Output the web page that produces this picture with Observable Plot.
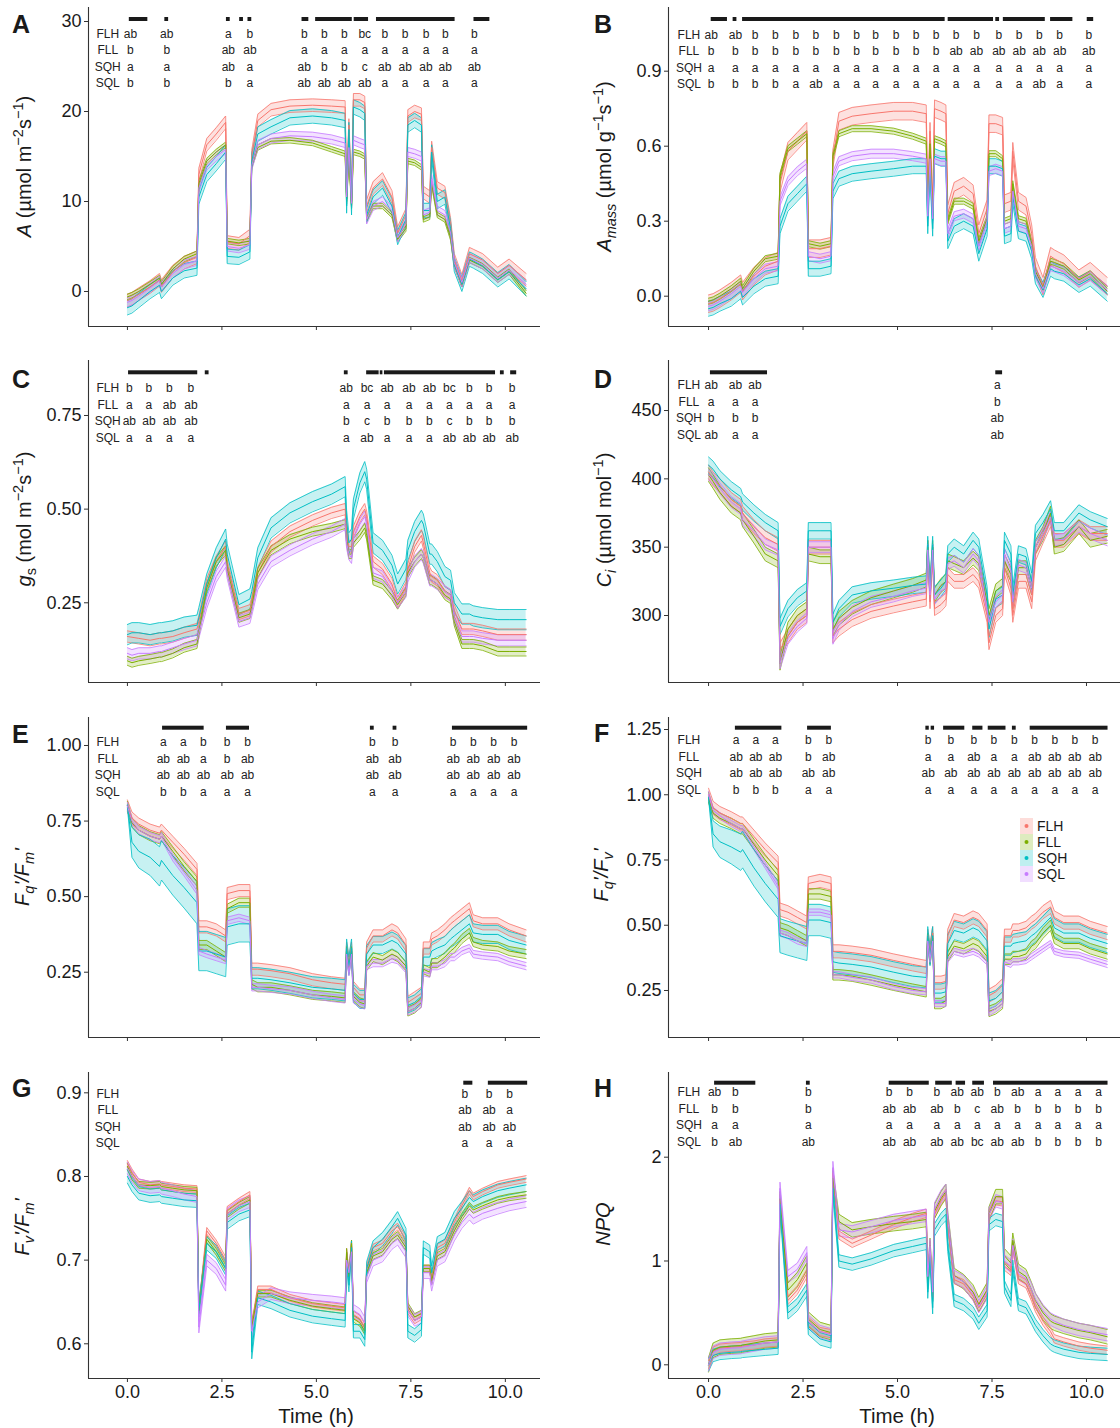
<!DOCTYPE html>
<html>
<head>
<meta charset="utf-8">
<script src="https://cdn.jsdelivr.net/npm/d3@7"></script>
<script src="https://cdn.jsdelivr.net/npm/@observablehq/plot@0.6"></script>
<style>
  html, body { margin: 0; padding: 0; background: #fff; }
  #root { position: relative; width: 1120px; height: 1428px; overflow: hidden; background: #fff; }
  .panel { position: absolute; width: 560px; }
  .panel svg { display: block; }
  #overlay { position: absolute; left: 0; top: 0; pointer-events: none; }
</style>
</head>
<body>
<div id="root"></div>
<script>
// ---------- shared time base (hours) ----------
const T = [0,0.12,0.3,0.6,0.85,0.9,1.2,1.5,1.84, 1.89,2.1,2.35,2.6, 2.64,2.95,3.24,
  3.29,3.45,3.8,4.3,4.9,5.4,5.76, 5.80,5.86,5.93,5.98,6.15,6.28, 6.33,6.5,6.75,7.0,7.15,7.37,
  7.42,7.6,7.78, 7.83,8.0,8.05,8.2,8.4,8.55, 8.65,8.85,9.05,9.15,9.4,9.8,10.1,10.55];

const series = ["FLH","FLL","SQH","SQL"];
const colors = ["#F8766D","#7CAE00","#00BFC4","#C77CFF"];
const xTicks = [0, 2.5, 5, 7.5, 10];

// ---------- Panel A: A ----------
const A_FLH = [-1.0,-0.8,-0.3,0.5,1.3,0.6,2.2,3.2,3.8, 13.0,16.3,17.5,18.8, 5.5,5.3,6.2, 15.0,19.0,20.2,20.6,20.7,20.6,20.5, 11.0,18.5,10.0,21.3,21.3,21.0, 9.5,11.5,12.5,10.5,6.5,8.5, 19.5,20.0,19.7, 11.0,10.5,16.0,11.5,11.0,7.5, 3.5,1.2,4.2,4.0,3.5,2.0,2.9,1.3];
const A_FLL = [-0.6,-0.4,0.0,0.8,1.5,0.8,2.5,3.6,4.2, 12.0,14.5,15.5,16.3, 5.6,5.4,5.6, 14.0,16.0,16.7,16.8,16.5,15.8,15.3, 10.0,15.0,9.5,15.5,15.3,15.0, 8.0,9.5,9.5,8.5,5.8,7.0, 14.5,14.3,13.8, 8.0,8.3,12.0,8.5,8.0,6.0, 3.0,0.8,3.5,3.3,2.8,1.3,2.2,-0.2];
const A_SQH = [-1.8,-1.6,-1.0,0.0,0.7,0.0,1.5,2.3,2.6, 10.5,13.0,14.2,15.5, 3.9,3.8,4.4, 14.5,17.5,18.3,19.3,19.5,19.3,19.0, 9.5,18.0,9.3,20.5,20.2,19.8, 8.5,10.5,11.5,9.5,6.0,8.0, 18.5,19.0,18.5, 9.0,9.0,15.5,10.0,10.5,7.0, 3.0,0.8,3.6,3.4,2.8,1.3,2.2,0.3];
const A_SQL = [-1.2,-1.0,-0.5,0.4,1.2,0.5,2.0,3.0,3.4, 11.5,14.0,15.0,15.8, 5.0,4.8,5.2, 14.0,16.3,17.0,17.3,17.2,16.9,16.5, 10.5,16.0,9.8,16.8,16.5,16.3, 8.0,9.5,10.0,9.0,6.0,7.5, 15.5,15.3,15.0, 8.5,8.8,12.5,9.0,8.5,6.5, 3.2,1.0,3.7,3.5,3.0,1.5,2.4,0.8];
const A_se = [0.7, 0.3, 0.8, 0.5];
const A_cols = [0.08,1.04,2.67,3.24,4.68,5.21,5.74,6.28,6.81,7.35,7.90,8.41,9.18];
const A_letters = [
  ["ab","ab","a","b","b","b","b","bc","b","b","b","b","b"],
  ["b","b","ab","ab","a","a","a","a","a","a","a","a","a"],
  ["a","a","ab","a","ab","b","b","c","ab","ab","ab","ab","ab"],
  ["b","b","b","a","ab","ab","ab","ab","a","a","a","a","a"]];
const A_stars = [[0.05,0.54],[0.99,1.09],[2.62,2.72],[2.97,3.07],[3.19,3.29],[4.62,4.8],[4.98,5.95],[6.0,6.38],[6.59,8.67],[9.17,9.59]];

// ---------- Panel B: A mass ----------
const B_FLH = [-0.03,-0.025,-0.01,0.02,0.05,0.02,0.08,0.12,0.14, 0.45,0.58,0.62,0.66, 0.19,0.19,0.20, 0.55,0.70,0.72,0.73,0.74,0.74,0.73, 0.35,0.66,0.34,0.75,0.74,0.73, 0.33,0.42,0.44,0.41,0.25,0.35, 0.69,0.69,0.68, 0.37,0.38,0.58,0.38,0.36,0.25, 0.12,0.04,0.16,0.15,0.13,0.07,0.10,0.04];
const B_FLL = [-0.02,-0.015,0.0,0.03,0.06,0.03,0.10,0.15,0.16, 0.48,0.59,0.62,0.65, 0.21,0.20,0.21, 0.56,0.65,0.67,0.67,0.66,0.64,0.62, 0.33,0.61,0.32,0.63,0.62,0.61, 0.30,0.38,0.38,0.36,0.22,0.31, 0.57,0.57,0.55, 0.30,0.31,0.45,0.31,0.30,0.21, 0.10,0.035,0.14,0.135,0.12,0.065,0.09,0.02];
const B_SQH = [-0.05,-0.045,-0.03,-0.01,0.02,-0.005,0.04,0.07,0.08, 0.28,0.37,0.41,0.45, 0.11,0.11,0.12, 0.42,0.47,0.49,0.50,0.51,0.52,0.52, 0.28,0.52,0.27,0.56,0.55,0.55, 0.22,0.28,0.30,0.28,0.17,0.27, 0.52,0.52,0.51, 0.24,0.25,0.40,0.26,0.25,0.18, 0.08,0.025,0.11,0.10,0.09,0.045,0.07,0.01];
const B_SQL = [-0.04,-0.035,-0.02,0.01,0.04,0.015,0.07,0.11,0.12, 0.38,0.46,0.50,0.53, 0.16,0.15,0.16, 0.48,0.54,0.56,0.57,0.57,0.56,0.55, 0.32,0.55,0.31,0.55,0.54,0.54, 0.25,0.32,0.33,0.31,0.20,0.30, 0.50,0.51,0.50, 0.27,0.28,0.42,0.28,0.27,0.20, 0.09,0.03,0.12,0.115,0.10,0.055,0.08,0.025];
const B_se = [0.035, 0.012, 0.03, 0.018];
const B_cols = [0.07,0.71,1.23,1.77,2.31,2.84,3.38,3.92,4.42,4.96,5.49,6.02,6.55,7.09,7.68,8.22,8.75,9.29,10.06];
const B_letters = [
  ["ab","ab","b","b","b","b","b","b","b","b","b","b","b","b","b","b","b","b","b"],
  ["b","b","b","b","b","b","b","b","b","b","b","b","ab","ab","ab","ab","ab","ab","ab"],
  ["a","a","a","a","a","a","a","a","a","a","a","a","a","a","a","a","a","a","a"],
  ["b","b","b","b","a","ab","a","a","a","a","a","a","a","a","a","a","ab","a","a"]];
const B_stars = [[0.07,0.5],[0.65,0.75],[0.9,6.26],[6.34,7.54],[7.6,7.7],[7.8,8.91],[9.05,9.64],[10.02,10.19]];

// ---------- Panel C: gs ----------
const C_FLH = [0.16,0.158,0.155,0.15,0.155,0.155,0.16,0.17,0.18, 0.20,0.30,0.36,0.40, 0.35,0.22,0.23, 0.25,0.33,0.40,0.44,0.47,0.49,0.50, 0.45,0.40,0.40,0.44,0.48,0.50, 0.48,0.36,0.34,0.30,0.25,0.29, 0.34,0.40,0.43, 0.41,0.33,0.32,0.31,0.28,0.27, 0.23,0.18,0.18,0.18,0.175,0.165,0.165,0.165];
const C_FLL = [0.095,0.09,0.095,0.10,0.105,0.105,0.115,0.13,0.14, 0.17,0.29,0.36,0.39, 0.34,0.21,0.22, 0.24,0.33,0.39,0.42,0.44,0.45,0.46, 0.42,0.38,0.38,0.41,0.43,0.45, 0.43,0.31,0.30,0.27,0.245,0.28, 0.33,0.36,0.38, 0.37,0.31,0.31,0.30,0.27,0.26, 0.20,0.14,0.14,0.14,0.135,0.12,0.12,0.12];
const C_SQH = [0.165,0.17,0.17,0.165,0.17,0.17,0.175,0.185,0.19, 0.21,0.30,0.37,0.42, 0.38,0.245,0.26, 0.28,0.37,0.45,0.49,0.52,0.54,0.56, 0.47,0.41,0.42,0.50,0.57,0.60, 0.58,0.41,0.39,0.35,0.30,0.34, 0.39,0.44,0.47, 0.46,0.38,0.38,0.36,0.32,0.31, 0.25,0.22,0.22,0.215,0.21,0.205,0.205,0.205];
const C_SQL = [0.115,0.11,0.115,0.115,0.12,0.12,0.13,0.14,0.15, 0.17,0.25,0.32,0.36, 0.33,0.20,0.21, 0.23,0.30,0.36,0.39,0.42,0.44,0.46, 0.41,0.38,0.37,0.42,0.46,0.48, 0.46,0.33,0.32,0.28,0.25,0.28, 0.32,0.36,0.38, 0.37,0.31,0.31,0.30,0.28,0.27, 0.21,0.16,0.16,0.16,0.155,0.15,0.15,0.15];
const C_se = [0.015, 0.012, 0.027, 0.015];
const C_cols = [0.05,0.57,1.11,1.68,5.79,6.34,6.87,7.45,7.99,8.52,9.05,9.57,10.18];
const C_letters = [
  ["b","b","b","b","ab","bc","ab","ab","ab","bc","b","b","b"],
  ["a","a","ab","ab","a","a","a","a","a","a","a","a","a"],
  ["ab","ab","ab","ab","b","c","b","b","b","c","b","b","b"],
  ["a","a","a","a","a","ab","a","a","a","ab","ab","ab","ab"]];
const C_stars = [[0.03,1.86],[2.06,2.16],[5.74,5.84],[6.33,6.66],[6.69,6.76],[6.8,9.74],[9.87,9.97],[10.14,10.3]];

// ---------- Panel D: Ci ----------
const D_FLH = [405,400,395,385,380,375,365,357,352, 275,285,295,300, 350,350,350, 285,290,297,303,307,310,312, 350,310,345,305,308,312, 330,325,325,330,325,300, 280,300,305, 335,320,300,325,325,310, 345,358,370,355,355,365,360,360];
const D_FLL = [403,398,390,380,375,370,358,345,340, 265,290,300,305, 345,343,343, 290,298,306,313,318,322,326, 350,318,350,315,322,325, 340,338,335,342,338,310, 300,318,322, 340,330,310,335,335,320, 350,360,375,350,352,365,355,358];
const D_SQH = [410,407,400,392,387,383,375,368,362, 292,305,313,318, 362,362,362, 295,305,315,318,320,322,323, 352,318,352,315,320,325, 345,350,345,355,350,315, 290,312,315, 355,345,315,345,343,325, 360,368,378,362,362,375,370,365];
const D_SQL = [403,400,393,383,378,370,362,352,348, 265,283,292,298, 350,350,350, 283,293,303,310,314,318,320, 348,315,348,312,318,320, 338,340,335,345,340,305, 295,310,315, 345,333,310,337,335,320, 350,360,372,355,356,365,360,355];
const D_se = [5, 5, 6, 4];
const D_cols = [0.07,0.71,1.23,7.64];
const D_letters = [
  ["ab","ab","ab","a"],
  ["a","a","a","b"],
  ["b","b","b","ab"],
  ["ab","a","a","ab"]];
const D_stars = [[0.05,1.56],[7.6,7.78]];

// ---------- Panel E: Fq'/Fm' ----------
const E_FLH = [0.80,0.76,0.74,0.72,0.71,0.72,0.68,0.64,0.59, 0.40,0.40,0.39,0.37, 0.51,0.52,0.52, 0.26,0.26,0.255,0.245,0.225,0.215,0.21, 0.33,0.28,0.33,0.20,0.175,0.175, 0.33,0.37,0.37,0.39,0.38,0.34, 0.15,0.165,0.18, 0.33,0.33,0.36,0.37,0.39,0.41, 0.42,0.44,0.46,0.42,0.41,0.41,0.39,0.37];
const E_FLL = [0.80,0.745,0.72,0.70,0.69,0.70,0.65,0.60,0.55, 0.34,0.34,0.32,0.30, 0.46,0.48,0.48, 0.21,0.20,0.20,0.19,0.175,0.17,0.165, 0.32,0.26,0.32,0.17,0.15,0.145, 0.27,0.30,0.29,0.31,0.30,0.27, 0.12,0.13,0.15, 0.26,0.25,0.28,0.28,0.30,0.32, 0.33,0.36,0.38,0.35,0.34,0.335,0.32,0.31];
const E_SQH = [0.80,0.68,0.65,0.63,0.60,0.62,0.57,0.53,0.48, 0.32,0.32,0.31,0.30, 0.40,0.41,0.41, 0.23,0.23,0.225,0.215,0.20,0.195,0.19, 0.33,0.27,0.33,0.18,0.16,0.16, 0.31,0.34,0.34,0.355,0.345,0.31, 0.14,0.15,0.17, 0.30,0.30,0.32,0.33,0.34,0.36, 0.37,0.39,0.41,0.38,0.375,0.375,0.355,0.34];
const E_SQL = [0.80,0.75,0.72,0.70,0.69,0.70,0.63,0.58,0.52, 0.32,0.31,0.30,0.29, 0.42,0.43,0.42, 0.20,0.20,0.195,0.19,0.175,0.165,0.16, 0.31,0.25,0.31,0.16,0.145,0.14, 0.27,0.28,0.28,0.295,0.29,0.26, 0.12,0.13,0.145, 0.25,0.245,0.27,0.27,0.28,0.30, 0.30,0.32,0.33,0.31,0.305,0.30,0.285,0.27];
const E_SQH_se = [0.005,0.05,0.055,0.06,0.065,0.065,0.065,0.068,0.07, 0.065,0.065,0.065,0.065, 0.06,0.06,0.06, 0.035,0.035,0.035,0.035,0.035,0.035,0.035, 0.03,0.03,0.03,0.03,0.03,0.03, 0.028,0.028,0.028,0.028,0.028,0.028, 0.025,0.025,0.025, 0.028,0.028,0.028,0.028,0.028,0.028, 0.03,0.03,0.03,0.03,0.03,0.03,0.03,0.03];
const E_se = [0.02, 0.015, E_SQH_se, 0.012];
const E_cols = [0.95,1.48,2.01,2.64,3.18,6.48,7.08,8.62,9.15,9.69,10.23];
const E_letters = [
  ["a","a","b","b","b","b","b","b","b","b","b"],
  ["ab","ab","a","b","ab","ab","ab","ab","ab","ab","ab"],
  ["ab","ab","ab","ab","ab","ab","ab","ab","ab","ab","ab"],
  ["b","b","a","a","a","a","a","a","a","a","a"]];
const E_stars = [[0.93,2.03],[2.62,3.23],[6.43,6.53],[7.03,7.13],[8.6,10.59]];

// ---------- Panel F: Fq'/Fv' ----------
const F_FLH = [1.0,0.95,0.93,0.91,0.89,0.89,0.84,0.79,0.74, 0.56,0.55,0.53,0.51, 0.66,0.67,0.66, 0.40,0.40,0.395,0.385,0.365,0.35,0.34, 0.46,0.40,0.47,0.28,0.28,0.285, 0.46,0.52,0.51,0.53,0.52,0.48, 0.23,0.245,0.27, 0.46,0.46,0.48,0.48,0.49,0.51, 0.52,0.55,0.57,0.53,0.51,0.51,0.49,0.47];
const F_FLL = [0.99,0.93,0.91,0.89,0.87,0.87,0.81,0.75,0.69, 0.49,0.48,0.46,0.44, 0.62,0.62,0.61, 0.31,0.31,0.305,0.29,0.27,0.255,0.245, 0.45,0.37,0.45,0.20,0.20,0.21, 0.38,0.42,0.41,0.43,0.42,0.38, 0.17,0.18,0.20, 0.37,0.37,0.38,0.38,0.39,0.42, 0.43,0.47,0.50,0.45,0.43,0.43,0.41,0.39];
const F_SQH = [0.99,0.85,0.82,0.80,0.78,0.79,0.72,0.66,0.60, 0.46,0.45,0.44,0.43, 0.52,0.52,0.51, 0.36,0.355,0.35,0.34,0.32,0.305,0.30, 0.46,0.38,0.46,0.24,0.24,0.245, 0.43,0.48,0.47,0.49,0.48,0.44, 0.21,0.22,0.245, 0.42,0.42,0.43,0.435,0.44,0.46, 0.47,0.50,0.53,0.49,0.47,0.47,0.45,0.43];
const F_SQL = [1.0,0.94,0.92,0.89,0.87,0.87,0.80,0.73,0.65, 0.47,0.46,0.44,0.43, 0.55,0.55,0.54, 0.31,0.31,0.30,0.29,0.265,0.25,0.245, 0.44,0.37,0.44,0.20,0.20,0.20, 0.37,0.40,0.39,0.40,0.39,0.36, 0.165,0.18,0.20, 0.36,0.35,0.36,0.36,0.365,0.38, 0.39,0.41,0.43,0.40,0.39,0.385,0.37,0.35];
const F_SQH_se = [0.005,0.05,0.06,0.065,0.07,0.07,0.07,0.07,0.07, 0.065,0.065,0.065,0.065, 0.06,0.06,0.06, 0.04,0.04,0.04,0.04,0.04,0.04,0.04, 0.035,0.035,0.035,0.035,0.035,0.035, 0.035,0.035,0.035,0.035,0.035,0.035, 0.03,0.03,0.03, 0.035,0.035,0.035,0.035,0.035,0.035, 0.035,0.035,0.035,0.035,0.035,0.035,0.035,0.035];
const F_se = [0.025, 0.02, F_SQH_se, 0.012];
const F_cols = [0.73,1.25,1.77,2.64,3.18,5.81,6.41,7.02,7.55,8.09,8.63,9.16,9.69,10.23];
const F_letters = [
  ["a","a","a","b","b","b","b","b","b","b","b","b","b","b"],
  ["ab","ab","ab","b","ab","a","a","ab","a","a","ab","ab","ab","ab"],
  ["ab","ab","ab","ab","ab","ab","ab","ab","ab","ab","ab","ab","ab","ab"],
  ["b","b","b","a","a","a","a","a","a","a","a","a","a","a"]];
const F_stars = [[0.71,1.94],[2.62,3.25],[5.75,5.84],[5.89,5.98],[6.22,6.78],[6.99,7.26],[7.4,7.87],[8.04,8.14],[8.51,10.57]];

// ---------- Panel G: Fv'/Fm' ----------
const G_FLH = [0.815,0.805,0.793,0.79,0.791,0.79,0.788,0.786,0.785, 0.64,0.735,0.72,0.70, 0.76,0.77,0.778, 0.62,0.665,0.665,0.655,0.648,0.645,0.643, 0.71,0.68,0.72,0.635,0.63,0.62, 0.69,0.715,0.72,0.735,0.74,0.725, 0.64,0.628,0.633, 0.69,0.69,0.675,0.715,0.72,0.735, 0.745,0.765,0.783,0.776,0.782,0.79,0.793,0.797];
const G_FLL = [0.812,0.80,0.79,0.789,0.79,0.788,0.786,0.784,0.783, 0.64,0.725,0.71,0.69, 0.755,0.765,0.772, 0.62,0.66,0.66,0.652,0.645,0.642,0.64, 0.71,0.68,0.72,0.63,0.625,0.615, 0.685,0.705,0.71,0.725,0.73,0.715, 0.645,0.632,0.636, 0.69,0.69,0.675,0.705,0.71,0.725, 0.735,0.752,0.765,0.76,0.765,0.772,0.775,0.778];
const G_SQH = [0.80,0.79,0.78,0.777,0.778,0.776,0.774,0.772,0.771, 0.64,0.72,0.71,0.69, 0.745,0.755,0.76, 0.59,0.655,0.65,0.64,0.633,0.63,0.628, 0.70,0.67,0.715,0.615,0.615,0.605, 0.69,0.715,0.725,0.74,0.75,0.73, 0.615,0.61,0.617, 0.715,0.71,0.685,0.72,0.725,0.74, 0.75,0.762,0.775,0.77,0.776,0.783,0.786,0.79];
const G_SQL = [0.81,0.80,0.79,0.787,0.788,0.786,0.783,0.779,0.776, 0.62,0.70,0.69,0.67, 0.755,0.765,0.77, 0.615,0.65,0.66,0.655,0.652,0.65,0.648, 0.70,0.685,0.71,0.64,0.635,0.625, 0.68,0.70,0.705,0.72,0.725,0.71, 0.64,0.628,0.632, 0.685,0.685,0.67,0.70,0.705,0.72, 0.73,0.745,0.755,0.75,0.756,0.762,0.766,0.77];
const G_se = [0.004, 0.004, 0.008, 0.007];
const G_cols = [8.93,9.57,10.11];
const G_letters = [
  ["b","b","b"],
  ["ab","ab","a"],
  ["ab","ab","ab"],
  ["a","a","a"]];
const G_stars = [[8.9,9.14],[9.55,10.59]];

// ---------- Panel H: NPQ ----------
const H_FLH = [0,0.13,0.16,0.17,0.175,0.18,0.19,0.21,0.22, 1.6,0.62,0.72,0.88, 0.42,0.32,0.30, 1.85,1.25,1.17,1.25,1.35,1.42,1.46, 0.8,1.15,0.65,1.45,1.58,1.65, 1.35,0.82,0.78,0.66,0.55,0.68, 1.45,1.58,1.57, 0.95,0.90,1.15,0.82,0.78,0.65, 0.55,0.42,0.32,0.25,0.22,0.18,0.16,0.14];
const H_FLL = [0,0.14,0.17,0.18,0.185,0.19,0.21,0.23,0.24, 1.6,0.72,0.82,0.98, 0.44,0.34,0.31, 1.8,1.38,1.30,1.33,1.36,1.38,1.40, 0.8,1.15,0.7,1.48,1.60,1.67, 1.40,0.86,0.80,0.70,0.58,0.72, 1.45,1.62,1.62, 1.05,0.98,1.20,0.90,0.85,0.72, 0.62,0.50,0.42,0.40,0.37,0.33,0.31,0.27];
const H_SQH = [0,0.09,0.11,0.12,0.125,0.13,0.14,0.15,0.16, 1.55,0.50,0.58,0.72, 0.35,0.25,0.22, 1.7,1.0,0.97,1.02,1.10,1.14,1.17, 0.7,1.05,0.55,1.30,1.40,1.45, 1.15,0.62,0.58,0.50,0.40,0.52, 1.35,1.40,1.38, 0.75,0.62,0.95,0.58,0.55,0.45, 0.38,0.28,0.20,0.18,0.15,0.12,0.11,0.10];
const H_SQL = [0,0.12,0.15,0.16,0.165,0.17,0.19,0.21,0.22, 1.7,0.85,0.92,1.08, 0.42,0.32,0.29, 1.9,1.30,1.28,1.33,1.39,1.42,1.44, 0.85,1.15,0.7,1.50,1.62,1.68, 1.40,0.85,0.80,0.68,0.56,0.70, 1.45,1.58,1.56, 1.0,0.95,1.15,0.88,0.83,0.72, 0.63,0.52,0.44,0.42,0.38,0.34,0.32,0.29];
const H_se = [0.04, 0.07, 0.06, 0.06];
const H_cols = [0.16,0.71,2.64,4.78,5.32,6.04,6.58,7.11,7.64,8.18,8.72,9.24,9.78,10.32];
const H_letters = [
  ["ab","b","b","b","b","b","ab","ab","b","ab","a","a","a","a"],
  ["b","b","b","ab","ab","ab","b","c","ab","b","b","b","b","b"],
  ["a","a","a","a","a","a","a","a","a","a","a","a","a","a"],
  ["b","ab","ab","ab","ab","ab","ab","bc","ab","ab","b","b","b","b"]];
const H_stars = [[0.16,1.25],[2.59,2.69],[4.78,5.84],[6.01,6.45],[6.55,6.8],[6.99,7.3],[7.54,10.57]];

// ---------- layout ----------
const FONT = "'Liberation Sans', Arial, Helvetica, sans-serif";
const rowGeom = [
  {top: 0, h: 336, mt: 7, mb: 10},
  {top: 350, h: 342, mt: 10, mb: 10},
  {top: 705, h: 342, mt: 12, mb: 10},
  {top: 1060, h: 368, mt: 12, mb: 50}
];
const colGeom = [
  {left: 0, ml: 88, mr: 20, xdom: [-1.03, 10.93]},
  {left: 560, ml: 108, mr: 0, xdom: [-1.06, 10.90]}
];

const panels = [
  {col:0,row:0, means:[A_FLH,A_FLL,A_SQH,A_SQL], se:A_se, ydom:[-3.889,31.556], yticks:[0,10,20,30], fmt:"d", cols:A_cols, letters:A_letters, stars:A_stars, starY:12, rowY:26.3},
  {col:1,row:0, means:[B_FLH,B_FLL,B_SQH,B_SQL], se:B_se, ydom:[-0.1212,1.1548], yticks:[0,0.3,0.6,0.9], fmt:".1f", cols:B_cols, letters:B_letters, stars:B_stars, starY:12, rowY:27.3},
  {col:0,row:1, means:[C_FLH,C_FLL,C_SQH,C_SQL], se:C_se, ydom:[0.0372,0.8968], yticks:[0.25,0.5,0.75], fmt:".2f", cols:C_cols, letters:C_letters, stars:C_stars, starY:12.3, rowY:27.7},
  {col:1,row:1, means:[D_FLH,D_FLL,D_SQH,D_SQL], se:D_se, ydom:[250.98,486.6], yticks:[300,350,400,450], fmt:"d", cols:D_cols, letters:D_letters, stars:D_stars, starY:12.3, rowY:24.7},
  {col:0,row:2, means:[E_FLH,E_FLL,E_SQH,E_SQL], se:E_se, ydom:[0.034,1.0926], yticks:[0.25,0.5,0.75,1], fmt:".2f", cols:E_cols, letters:E_letters, stars:E_stars, starY:10.7, rowY:24.7},
  {col:1,row:2, means:[F_FLH,F_FLL,F_SQH,F_SQL], se:F_se, ydom:[0.0699,1.296], yticks:[0.25,0.5,0.75,1,1.25], fmt:".2f", cols:F_cols, letters:F_letters, stars:F_stars, starY:10.7, rowY:22.7},
  {col:0,row:3, means:[G_FLH,G_FLL,G_SQH,G_SQL], se:G_se, ydom:[0.5585,0.9243], yticks:[0.6,0.7,0.8,0.9], fmt:".1f", cols:G_cols, letters:G_letters, stars:G_stars, starY:10.7, rowY:21.3},
  {col:1,row:3, means:[H_FLH,H_FLL,H_SQH,H_SQL], se:H_se, ydom:[-0.132,2.816], yticks:[0,1,2], fmt:"d", cols:H_cols, letters:H_letters, stars:H_stars, starY:10.7, rowY:19.7}
];

const root = document.getElementById("root");

function makePanel(p) {
  const rg = rowGeom[p.row], cg = colGeom[p.col];
  const rows = [];
  series.forEach((s, k) => {
    const m = p.means[k], w = p.se[k];
    T.forEach((t, i) => {
      const h = Array.isArray(w) ? w[i] : w;
      rows.push({t, s, m: m[i], lo: m[i] - h, hi: m[i] + h});
    });
  });
  const innerH = rg.h - rg.mt - rg.mb;
  const marks = [
    Plot.areaY(rows, {x: "t", y1: "lo", y2: "hi", z: "s", fill: "s", fillOpacity: 0.22}),
    Plot.lineY(rows, {x: "t", y: "lo", z: "s", stroke: "s", strokeWidth: 0.8}),
    Plot.lineY(rows, {x: "t", y: "hi", z: "s", stroke: "s", strokeWidth: 0.8}),
    Plot.lineY(rows, {x: "t", y: "m", z: "s", stroke: "s", strokeWidth: 1}),
    Plot.rect(p.stars, {x1: d => d[0], x2: d => d[1], fill: "#1a1a1a",
      insetTop: p.starY - 2, insetBottom: innerH - p.starY - 2})
  ];
  for (let k = 0; k < 4; k++) {
    const rowData = [{t: -0.52, txt: series[k]}].concat(p.cols.map((c, j) => ({t: c, txt: p.letters[k][j]})));
    marks.push(Plot.text(rowData, {x: "t", text: "txt", frameAnchor: "top", dy: p.rowY + 16.5 * k,
      lineAnchor: "middle", textAnchor: "middle", fontSize: 12, fill: "#222"}));
  }
  const showX = p.row === 3;
  marks.push(
    Plot.axisY({ticks: p.yticks, tickFormat: p.fmt, tickSize: 4, tickPadding: 3, fontSize: 18,
      stroke: "#333", fill: "#1a1a1a", label: null}),
    Plot.axisX({ticks: xTicks, tickFormat: showX ? ".1f" : () => "", tickSize: 4, tickPadding: 3, fontSize: 18,
      stroke: "#333", fill: "#1a1a1a", label: null}),
    Plot.ruleX([cg.xdom[0]], {stroke: "#333", strokeWidth: 1.1}),
    Plot.ruleY([p.ydom[0]], {stroke: "#333", strokeWidth: 1.1})
  );
  const chart = Plot.plot({
    width: 560, height: rg.h,
    marginLeft: cg.ml, marginRight: cg.mr, marginTop: rg.mt, marginBottom: rg.mb,
    style: {fontFamily: FONT, background: "transparent"},
    x: {domain: cg.xdom, label: null},
    y: {domain: p.ydom, label: null},
    color: {domain: series, range: colors},
    marks
  });
  const div = document.createElement("div");
  div.className = "panel";
  div.style.left = cg.left + "px";
  div.style.top = rg.top + "px";
  div.appendChild(chart);
  root.appendChild(div);
}
panels.forEach(makePanel);

// ---------- overlay: panel letters, axis titles, legend ----------
const letterPos = [["A",12,33],["B",594,33],["C",12,388],["D",594,388],["E",12,743],["F",594,742],["G",12,1097],["H",594,1097]];
const S = 'font-size="14.5"';
const titles = [
  {x: 31, y: 166.5, it: false, s: `<tspan font-style="italic">A</tspan> (µmol m<tspan dy="-8" ${S}>−2</tspan><tspan dy="8">s</tspan><tspan dy="-8" ${S}>−1</tspan><tspan dy="8">)</tspan>`},
  {x: 611, y: 166.5, it: false, s: `<tspan font-style="italic">A</tspan><tspan dy="5" ${S} font-style="italic">mass</tspan><tspan dy="-5"> (µmol g</tspan><tspan dy="-8" ${S}>−1</tspan><tspan dy="8">s</tspan><tspan dy="-8" ${S}>−1</tspan><tspan dy="8">)</tspan>`},
  {x: 31, y: 519, it: false, s: `<tspan font-style="italic">g</tspan><tspan dy="5" ${S}>s</tspan><tspan dy="-5"> (mol m</tspan><tspan dy="-8" ${S}>−2</tspan><tspan dy="8">s</tspan><tspan dy="-8" ${S}>−1</tspan><tspan dy="8">)</tspan>`},
  {x: 611, y: 520, it: false, s: `<tspan font-style="italic">C</tspan><tspan dy="5" ${S} font-style="italic">i</tspan><tspan dy="-5"> (µmol mol</tspan><tspan dy="-8" ${S}>−1</tspan><tspan dy="8">)</tspan>`},
  {x: 29, y: 877, it: true, s: `F<tspan dy="5" ${S}>q</tspan><tspan dy="-5">'/F</tspan><tspan dy="5" ${S}>m</tspan><tspan dy="-5">'</tspan>`},
  {x: 608, y: 875, it: true, s: `F<tspan dy="5" ${S}>q</tspan><tspan dy="-5">'/F</tspan><tspan dy="5" ${S}>v</tspan><tspan dy="-5">'</tspan>`},
  {x: 29, y: 1227, it: true, s: `F<tspan dy="5" ${S}>v</tspan><tspan dy="-5">'/F</tspan><tspan dy="5" ${S}>m</tspan><tspan dy="-5">'</tspan>`},
  {x: 610, y: 1224, it: true, s: `NPQ`}
];
let svg = `<svg id="overlay" width="1120" height="1428" xmlns="http://www.w3.org/2000/svg" font-family="${FONT.replace(/'/g, "")}" fill="#1a1a1a">`;
letterPos.forEach(([L, x, y]) => { svg += `<text x="${x}" y="${y}" font-size="25" font-weight="bold">${L}</text>`; });
titles.forEach(t => {
  svg += `<text transform="translate(${t.x},${t.y}) rotate(-90)" text-anchor="middle" font-size="20"${t.it ? ' font-style="italic"' : ''}>${t.s}</text>`;
});
svg += `<text x="316" y="1423" text-anchor="middle" font-size="20.5">Time (h)</text>`;
svg += `<text x="897" y="1423" text-anchor="middle" font-size="20.5">Time (h)</text>`;
series.forEach((s, i) => {
  const cy = 826 + 16 * i;
  svg += `<rect x="1020" y="${cy - 8}" width="13" height="16" fill="${colors[i]}" fill-opacity="0.25"/>`;
  svg += `<circle cx="1026.5" cy="${cy}" r="2" fill="${colors[i]}"/>`;
  svg += `<text x="1037" y="${cy + 5}" font-size="14">${s}</text>`;
});
svg += `</svg>`;
root.insertAdjacentHTML("beforeend", svg);
</script>
</body>
</html>
